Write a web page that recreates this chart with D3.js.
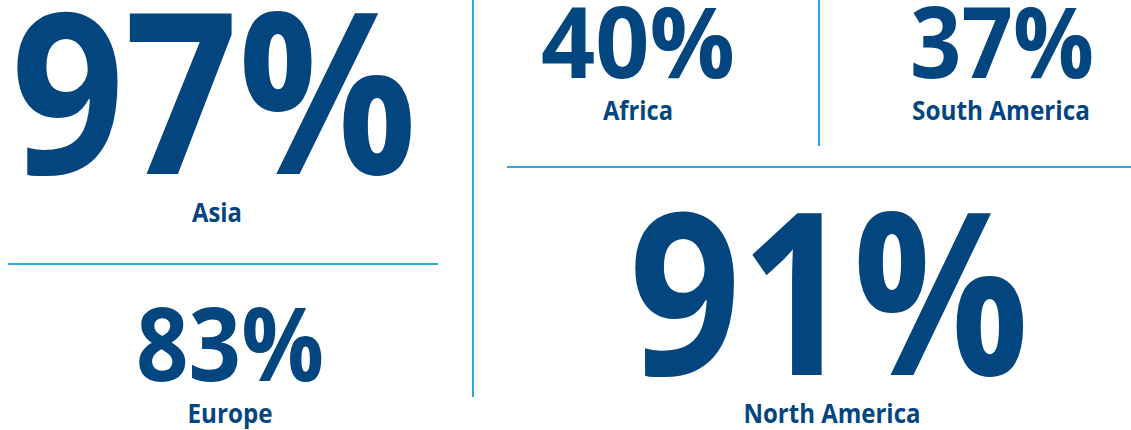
<!DOCTYPE html>
<html>
<head>
<meta charset="utf-8">
<script src="https://cdn.jsdelivr.net/npm/d3@7"></script>
<style>
  html, body { margin: 0; padding: 0; background: #fff; }
  svg { display: block; }
</style>
</head>
<body>
<svg id="chart" width="1131" height="430"></svg>
<script>
// Share of respondents by region
const regions = ["Asia", "Europe", "Africa", "South America", "North America"];
const shares = [97, 83, 40, 37, 91];

// Panel placement for each region (centre x, baselines, type sizes, fitted widths)
const panels = {
  "Asia":          { cx: 214, numBase: 174, numSize: 224, numW: 406, labCx: 217, labBase: 222, labW: 50 },
  "Europe":        { cx: 230, numBase: 381, numSize: 103, numW: 188, labCx: 230, labBase: 423, labW: 85 },
  "Africa":        { cx: 638, numBase: 78,  numSize: 99,  numW: 194, labCx: 638, labBase: 120, labW: 70 },
  "South America": { cx: 1002, numBase: 78, numSize: 99,  numW: 184, labCx: 1001, labBase: 120, labW: 178 },
  "North America": { cx: 829, numBase: 375, numSize: 227, numW: 400, labCx: 832, labBase: 423, labW: 177 }
};

// Divider rules between panels
const rules = [
  { x1: 473, y1: 0,   x2: 473,  y2: 397 },
  { x1: 819, y1: 0,   x2: 819,  y2: 146 },
  { x1: 8,   y1: 264, x2: 438,  y2: 264 },
  { x1: 507, y1: 167, x2: 1131, y2: 167 }
];

const ink = "#03457f";
const ruleColor = "#2ba6e1";
const fontFamily = "'Open Sans', 'Noto Sans', sans-serif";

const svg = d3.select("#chart");
const fmt = d => d3.format("d")(d) + "%";

svg.selectAll("line.rule")
  .data(rules)
  .join("line")
  .attr("class", "rule")
  .attr("x1", d => d.x1).attr("y1", d => d.y1)
  .attr("x2", d => d.x2).attr("y2", d => d.y2)
  .attr("stroke", ruleColor)
  .attr("stroke-width", 2);

const rows = regions.map((r, i) => ({ region: r, value: shares[i], p: panels[r] }));

const g = svg.selectAll("g.stat")
  .data(rows)
  .join("g")
  .attr("class", "stat");

g.append("text")
  .attr("class", "value")
  .attr("x", d => d.p.cx)
  .attr("y", d => d.p.numBase)
  .attr("text-anchor", "middle")
  .attr("font-family", fontFamily)
  .attr("font-weight", 700)
  .attr("font-size", d => d.p.numSize)
  .attr("textLength", d => d.p.numW)
  .attr("lengthAdjust", "spacingAndGlyphs")
  .attr("fill", ink)
  .text(d => fmt(d.value));

g.append("text")
  .attr("class", "label")
  .attr("x", d => d.p.labCx)
  .attr("y", d => d.p.labBase)
  .attr("text-anchor", "middle")
  .attr("font-family", fontFamily)
  .attr("font-weight", 700)
  .attr("font-size", 27)
  .attr("textLength", d => d.p.labW)
  .attr("lengthAdjust", "spacingAndGlyphs")
  .attr("fill", ink)
  .text(d => d.region);
</script>
</body>
</html>
